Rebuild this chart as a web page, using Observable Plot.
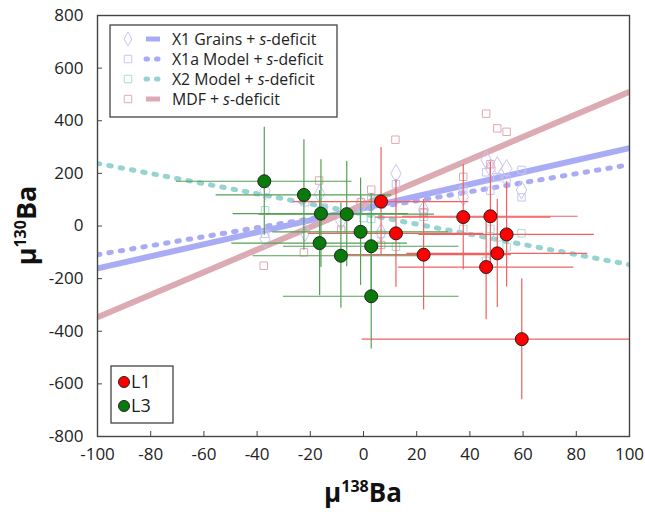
<!DOCTYPE html>
<html><head><meta charset="utf-8">
<script src="https://cdn.jsdelivr.net/npm/d3@7"></script>
<script src="https://cdn.jsdelivr.net/npm/@observablehq/plot@0.6"></script>
<style>body{margin:0;background:#fff;} #chart{width:645px;height:512px}</style>
</head><body><div id="chart"></div>
<script>
// ---- data ----
const xTicks = [-100,-80,-60,-40,-20,0,20,40,60,80,100];
const yTicks = [-800,-600,-400,-200,0,200,400,600,800];

// model lines (value at x = -100 and x = 100)
const lineNames = ["X1 Grains", "X1a Model", "X2 Model", "MDF"];
const lineX = [-100, 100];
const lineLeft  = [-161, -109, 238, -347];
const lineRight = [296, 233, -147, 510];

// faint model markers
const x1GrainsX = [-37, -37, -22, -16.5, -8.5, -1, 6.6, 12.2, 22.6, 37.5, 46.1, 47.7, 50.3, 53.8, 59.4];
const x1GrainsY = [-49, 134, -24, 122, 20, 80, -24, 200, 62, 111, 251, 220, 229, 218, 137];
const x1aX = [-37, -22, -15, -6, 2.9, 12.2, 22.6, 37.5, 46.1, 47.7, 50.3, 53.8, 59.4, 59.4];
const x1aY = [-30, 90, 70, 48, 100, 159, 50, 137, 204, 134, 185, 178, 213, 109];
const x2X = [-37, -16, 0, 2.9, 6.6, 12.2, 22.6, 37.5, 46.1, 47.7, 50.3, 53.8, 59.4];
const x2Y = [60, 60, 30, 27, -30, -79, 35, -11, -132, -11, -43, -81, -28];
const mdfX = [-37.5, -22.4, -16.7, -8.4, -1, 2.9, 6.6, 12, 22.6, 37.5, 46.1, 47.7, 50.3, 53.8];
const mdfY = [-151, -100, 173, -14, 90, 138, -72, 328, 52, 187, 427, 235, 371, 358];

// samples
const l1X  = [6.6, 12.2, 22.6, 37.5, 47.7, 53.8, 50.3, 46.1, 59.5];
const l1Y  = [93, -28, -109, 34, 37, -32, -104, -156, -430];
const l1EX = [33, 33, 33, 33, 33, 33, 34, 33, 60];
const l1EY = [205, 205, 210, 200, 205, 200, 206, 200, 230];
const l3X  = [-37.3, -22.4, -16, -6.3, -1.1, -16.5, -8.5, 2.9, 2.9];
const l3Y  = [170, 118, 47, 45, -22, -65, -113, -77, -267];
const l3EX = [33, 33, 33, 33, 33, 33, 33, 33, 33];
const l3EY = [205, 210, 205, 200, 204, 200, 200, 200, 200];

const legendLabels = ["X1 Grains + ", "X1a Model + ", "X2 Model + ", "MDF + "];
const sampleNames = ["L1", "L3"];

// ---- styles ----
const lineStyle = {
  "X1 Grains": {stroke: "#a9acf4", dash: null, symbol: "diamond", mstroke: "#c4c6f4"},
  "X1a Model": {stroke: "#a9acf4", dash: "2.5 9", symbol: "square", mstroke: "#c4c6f4"},
  "X2 Model":  {stroke: "#98d3d3", dash: "2.5 9", symbol: "square", mstroke: "#a9dcdc"},
  "MDF":       {stroke: "#dcaab3", dash: null, symbol: "square", mstroke: "#e2a9b2"}
};
const sampleFill = {L1: "#ff0000", L3: "#0a7a0a"};
const sampleBar = {L1: "#f26060", L3: "#55a055"};

// ---- tables ----
const lineRows = lineNames.flatMap((n, i) => [{name: n, x: lineX[0], y: lineLeft[i]}, {name: n, x: lineX[1], y: lineRight[i]}]);
const zip = (name, xs, ys) => xs.map((x, i) => ({name, x, y: ys[i]}));
const markerSets = [zip("X1 Grains", x1GrainsX, x1GrainsY), zip("X1a Model", x1aX, x1aY), zip("X2 Model", x2X, x2Y), zip("MDF", mdfX, mdfY)];
const samples = [
  ...l1X.map((x, i) => ({s: "L1", x, y: l1Y[i], ex: l1EX[i], ey: l1EY[i]})),
  ...l3X.map((x, i) => ({s: "L3", x, y: l3Y[i], ex: l3EX[i], ey: l3EY[i]}))
];

const W = 645, H = 512, mL = 97, mR = 16, mT = 15, mB = 76;
const frameW = W - mL - mR, frameH = H - mT - mB;
const FONT = "'Open Sans', sans-serif";

const marks = [];
lineNames.forEach(n => {
  const st = lineStyle[n];
  marks.push(Plot.line(lineRows.filter(d => d.name === n), {
    x: "x", y: "y", stroke: st.stroke, strokeWidth: st.dash ? 5 : 6,
    strokeDasharray: st.dash, strokeLinecap: st.dash ? "round" : "butt", clip: true
  }));
});
markerSets.forEach(set => {
  const st = lineStyle[set[0].name];
  marks.push(Plot.dot(set, {x: "x", y: "y", symbol: () => st.symbol, r: st.symbol === "diamond" ? 5.5 : 4.2,
    stroke: st.mstroke, strokeWidth: 1, fill: "none"}));
});
sampleNames.forEach(s => {
  const rows = samples.filter(d => d.s === s);
  marks.push(Plot.ruleY(rows, {y: "y", x1: d => d.x - d.ex, x2: d => d.x + d.ex, stroke: sampleBar[s], strokeWidth: 1.2, clip: true}));
  marks.push(Plot.ruleX(rows, {x: "x", y1: d => d.y - d.ey, y2: d => d.y + d.ey, stroke: sampleBar[s], strokeWidth: 1.2, clip: true}));
});
sampleNames.forEach(s => {
  marks.push(Plot.dot(samples.filter(d => d.s === s), {x: "x", y: "y", r: 6.5, fill: sampleFill[s], stroke: "#222", strokeWidth: 1}));
});
marks.push(Plot.frame({stroke: "#444", strokeWidth: 1.4}));
marks.push(Plot.tickX(xTicks, {x: d => d, insetTop: frameH - 5, stroke: "#444"}));
marks.push(Plot.tickY(yTicks, {y: d => d, insetRight: frameW - 5, stroke: "#444"}));
marks.push(Plot.axisX({ticks: xTicks, tickSize: 0, tickPadding: 11, tickFormat: d => String(d), label: null, fontSize: 17}));
marks.push(Plot.axisY({ticks: yTicks, tickSize: 0, tickPadding: 14, tickFormat: d => String(d), label: null, fontSize: 17}));

const chart = Plot.plot({
  width: W, height: H, marginLeft: mL, marginRight: mR, marginTop: mT, marginBottom: mB,
  style: {fontFamily: FONT, fontSize: "17px", color: "#222", background: "white"},
  x: {domain: [-100, 100]},
  y: {domain: [-800, 800]},
  marks
});
document.getElementById("chart").appendChild(chart);

// ---- titles & legends ----
const svg = d3.select(chart);
function title(g, base, sup) {
  g.append("tspan").text("μ");
  g.append("tspan").attr("font-size", 16).attr("dy", -10).text(sup);
  g.append("tspan").attr("dy", 10).text(base);
}
const xt = svg.append("text").attr("x", mL + frameW / 2).attr("y", 502).attr("text-anchor", "middle")
  .attr("font-family", FONT).attr("font-weight", "bold").attr("font-size", 26).attr("fill", "#111");
title(xt, "Ba", "138");
const yt = svg.append("text").attr("transform", `translate(36,${mT + frameH / 2}) rotate(-90)`).attr("text-anchor", "middle")
  .attr("font-family", FONT).attr("font-weight", "bold").attr("font-size", 27).attr("fill", "#111");
title(yt, "Ba", "130");

// legend 1
const lg = svg.append("g").attr("text-anchor", "start");
lg.append("rect").attr("x", 110).attr("y", 25).attr("width", 227).attr("height", 92).attr("fill", "white").attr("stroke", "#444").attr("stroke-width", 1.3);
lineNames.forEach((n, i) => {
  const st = lineStyle[n];
  const cy = 39 + i * 20;
  const sym = d3.symbol(st.symbol === "diamond" ? d3.symbolDiamond : d3.symbolSquare, st.symbol === "diamond" ? 55 : 56);
  lg.append("path").attr("d", sym()).attr("transform", `translate(128,${cy})`).attr("fill", "none").attr("stroke", st.mstroke).attr("stroke-width", 1);
  lg.append("line").attr("x1", 146).attr("x2", 160).attr("y1", cy).attr("y2", cy).attr("stroke", st.stroke)
    .attr("stroke-width", 5).attr("stroke-dasharray", st.dash ? "1.5 9" : null).attr("stroke-linecap", st.dash ? "round" : "butt");
  const t = lg.append("text").attr("x", 172).attr("y", cy).attr("dy", "0.35em").attr("text-anchor", "start")
    .attr("font-family", FONT).attr("font-size", 15.8).attr("fill", "#222");
  t.append("tspan").text(legendLabels[i]);
  t.append("tspan").attr("font-style", "italic").text("s");
  t.append("tspan").text("-deficit");
});
// legend 2
const lg2 = svg.append("g").attr("text-anchor", "start");
lg2.append("rect").attr("x", 111).attr("y", 366).attr("width", 62).attr("height", 57).attr("fill", "white").attr("stroke", "#444").attr("stroke-width", 1.3);
sampleNames.forEach((s, i) => {
  const cy = 382 + i * 24;
  lg2.append("circle").attr("cx", 124).attr("cy", cy).attr("r", 5.5).attr("fill", sampleFill[s]).attr("stroke", "#222");
  lg2.append("text").attr("x", 131).attr("y", cy).attr("dy", "0.36em").attr("text-anchor", "start")
    .attr("font-family", FONT).attr("font-size", 18).attr("fill", "#222").text(s);
});
</script>
</body></html>
